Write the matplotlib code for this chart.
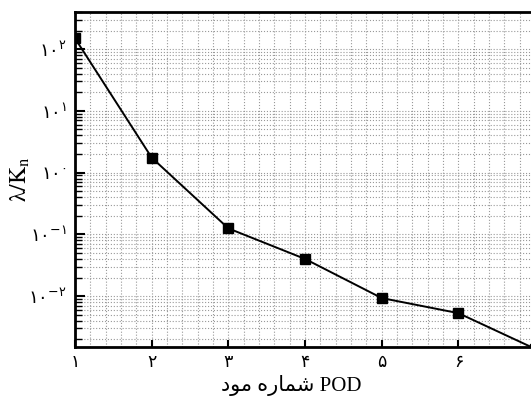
import matplotlib
matplotlib.use("Agg")
import matplotlib.pyplot as plt
from matplotlib.ticker import FixedLocator, MultipleLocator, LogLocator, NullFormatter

# POD mode number and eigenvalue ratio
modes = [1, 2, 3, 4, 5, 6, 7]
ratio = [150, 1.75, 0.125, 0.040, 0.0093, 0.0053, 0.0014]

xtick_vals = [1, 2, 3, 4, 5, 6, 7]
xtick_labels = ["۱", "۲", "۳", "۴", "۵", "۶", "۷"]
ytick_vals = [1e-2, 1e-1, 1e0, 1e1, 1e2]
ytick_labels = [r"$۱۰^{-۲}$", r"$۱۰^{-۱}$", r"$۱۰^{۰}$", r"$۱۰^{۱}$", r"$۱۰^{۲}$"]

# "شماره مود" laid out left-to-right in visual order with presentation forms
# (matplotlib does no arabic shaping / bidi)
xlabel = "\uFEA9\uFEEE\uFEE3 \uFEE9\uFEAD\uFE8E\uFEE4\uFEB7 POD"

plt.rcParams['font.family'] = ['Liberation Serif', 'DejaVu Sans']

fig = plt.figure(figsize=(5.31, 4.03), dpi=100)
# axes run past the right edge of the figure, as in the reference
ax = fig.add_axes([75/531, 56/403, 498.5/531, 335/403])

ax.plot(modes, ratio, color='black', lw=1.4, marker='s', ms=6.5,
        mfc='black', mec='black')

ax.set_yscale('log')
ax.set_xlim(1, 7.5)
ax.set_ylim(1.5e-3, 400)

ax.xaxis.set_major_locator(FixedLocator(xtick_vals))
ax.xaxis.set_minor_locator(MultipleLocator(0.2))
ax.set_xticklabels(xtick_labels, family='DejaVu Sans', fontsize=12.5)

ax.yaxis.set_major_locator(FixedLocator(ytick_vals))
ax.yaxis.set_minor_locator(LogLocator(base=10, subs=range(2, 10), numticks=20))
ax.yaxis.set_minor_formatter(NullFormatter())
ax.set_yticklabels(ytick_labels, fontsize=13)
for t in ax.get_yticklabels():
    t.set_math_fontfamily('dejavusans')

ax.tick_params(axis='x', which='major', direction='in', length=5, width=1.5, pad=4)
ax.tick_params(axis='x', which='minor', length=0)
ax.tick_params(axis='y', which='major', direction='in', length=7, width=1.5, pad=6)
ax.tick_params(axis='y', which='minor', direction='in', length=5, width=1.0)

ax.grid(True, which='both', color='#999999', linestyle=':', linewidth=0.8)
ax.set_axisbelow(True)

for s in ['left', 'bottom', 'top']:
    ax.spines[s].set_linewidth(2)

ax.set_xlabel(xlabel, fontsize=15)
ax.xaxis.set_label_coords(216/498.5, -0.085)

yl = ax.set_ylabel(r"$\mathrm{λ/K_n}$", fontsize=17)
yl.set_math_fontfamily('stix')
ax.yaxis.set_label_coords(-43/498.5, 0.5)

fig.savefig("out.png", dpi=100)
